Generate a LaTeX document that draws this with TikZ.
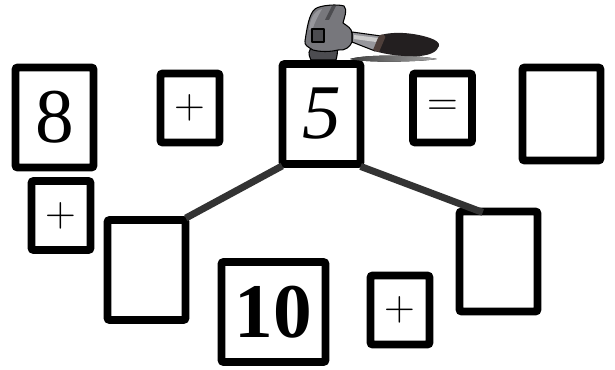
\documentclass[tikz,border=0pt]{standalone}
\usepackage{fontspec}
\setmainfont{Liberation Serif}
\newfontfamily\opfont{Latin Modern Roman}
\usepackage{xcolor}
\usetikzlibrary{shapes,arrows,positioning,fit,arrows.meta}
\definecolor{linkgray}{HTML}{333333}
\definecolor{steelgray}{HTML}{77777C}
\definecolor{steellight}{HTML}{97979C}
\definecolor{steeldark}{HTML}{4C4C50}
\definecolor{gripdark}{HTML}{231F20}
\definecolor{gripring}{HTML}{4E3F3A}
\tikzset{
    numbox/.style={draw=black,line width=5.75pt,rounded corners=1.5pt,inner sep=0pt,minimum width=58.5pt,minimum height=75pt,font=\fontsize{58}{58}\selectfont},
    opbox/.style={numbox,minimum width=44.25pt,minimum height=51.75pt,font=\fontsize{32}{32}\opfont},
    link/.style={draw=linkgray,line width=5.25pt,shorten <=-3pt,shorten >=-3pt},
    hammerline/.style={draw=black,line width=0.8pt,line join=round}
}

\begin{document}
\begin{tikzpicture}[x=0.75pt,y=-0.75pt]
        \useasboundingbox (0,0) rectangle (615,370);
        % Draw top row
        \node[numbox] (eight) at (54.5,117.5) {\raisebox{1pt}{8}};
        \node[opbox] (plusa) at (190,108) {+};
        \node[numbox,font=\fontsize{58}{58}\selectfont\itshape] (five) at (321.5,114) {5};
        \node[opbox] (equal) at (442.5,108) {=};
        \node[numbox,minimum height=69.75pt] (result) at (561.5,114) {};
        % Draw lower row
        \node[opbox] (plusb) at (61,215.5) {+};
        \node[numbox] (partleft) at (146.5,270) {};
        \node[numbox,minimum width=78pt,font=\fontsize{58}{58}\selectfont\bfseries] (ten) at (273.5,312) {\raisebox{1pt}{10}};
        \node[opbox] (plusc) at (400,310) {+};
        \node[numbox] (partright) at (498.5,261.5) {};
        % Draw split lines
        \coordinate (splitend) at (479,211);
        \draw[link] (five.south west) -- (partleft.north east);
        \draw[link] (five.south east) -- (splitend);
        % Draw hammer shadow
        \fill[left color=black!75,right color=black!35] (350,59) .. controls (365,54) and (420,55) .. (437,59) .. controls (420,62) and (365,63) .. (350,59);
        % Draw hammer poll and head
        \fill[steeldark,hammerline] (311,60) .. controls (308,54) and (308,50) .. (313,47) -- (337,47) .. controls (338,52) and (337,56) .. (336,60) -- cycle;
        \fill[steellight,hammerline] (352,32) -- (381,36) -- (375,51) -- (352,42) -- cycle;
        \fill[steelgray,hammerline] (313,50) .. controls (308,47) and (304,45) .. (305,41) .. controls (307,28) and (309,14) .. (315,9) .. controls (320,5) and (338,4) .. (344,6) .. controls (348,10) and (344,18) .. (343,23) .. controls (347,26) and (352,28) .. (352,34) -- (352,42) .. controls (350,47) and (345,51) .. (338,50) .. controls (330,52) and (320,52) .. (313,50) -- cycle;
        \fill[steellight] (322,9) .. controls (318,16) and (314,24) .. (313,28) -- (309,30) .. controls (310,20) and (313,11) .. (322,9) -- cycle;
        \fill[steeldark] (332,6) -- (336,6) -- (329,20) -- (325,20) -- cycle;
        \fill[steeldark,hammerline] (312,29) rectangle (324,42);
        \fill[gray!40] (354,35) -- (378,38) -- (376,42) -- (354,39) -- cycle;
        % Draw hammer grip
        \fill[gripdark] (381,35) .. controls (395,31) and (415,33) .. (430,38) .. controls (436,40) and (440,43) .. (439,46) .. controls (437,52) and (430,55) .. (420,56) .. controls (405,57) and (388,55) .. (374,51) -- cycle;
        \fill[gripring] (380,35) .. controls (383,34) and (386,35) .. (385,38) -- (379,52) -- (373,50) -- (378,38) -- cycle;
\end{tikzpicture}
\end{document}
